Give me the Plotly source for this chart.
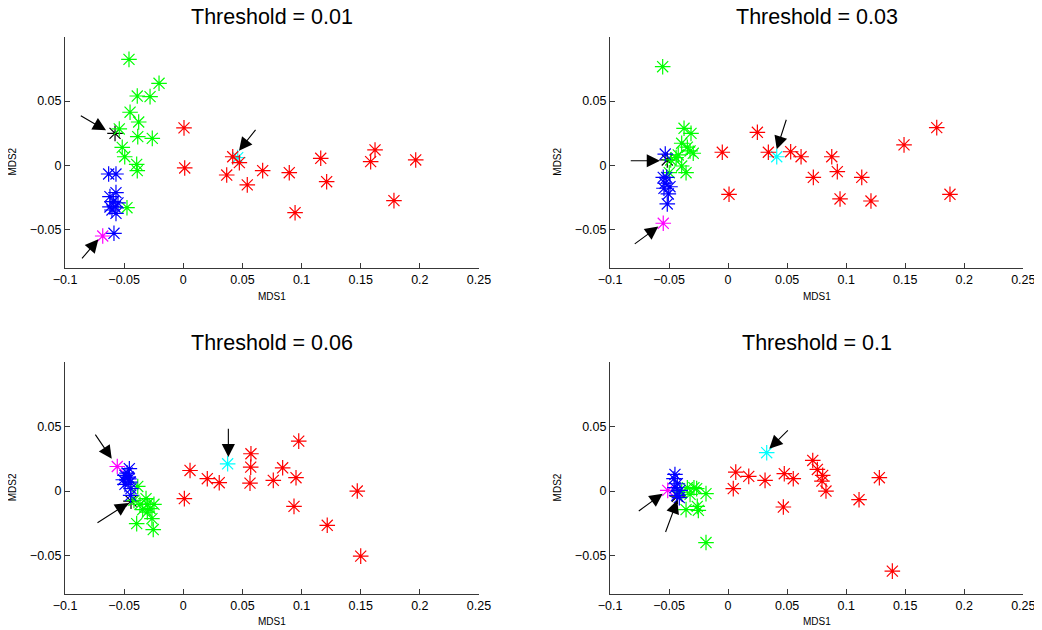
import plotly.graph_objects as go

# ---------------- data ----------------
titles = ["Threshold = 0.01", "Threshold = 0.03", "Threshold = 0.06", "Threshold = 0.1"]
x_ticks = [-0.1, -0.05, 0, 0.05, 0.1, 0.15, 0.2, 0.25]
x_ticktext = ["\u22120.1", "\u22120.05", "0", "0.05", "0.1", "0.15", "0.2", "0.25"]
y_ticks = [-0.05, 0, 0.05]
y_ticktext = ["\u22120.05", "0", "0.05"]

# Panel 1 : threshold 0.01
p1_red_x = [0.0006, 0.0012, 0.0418, 0.0474, 0.0367, 0.0541, 0.0671, 0.0896, 0.0945,
            0.1162, 0.1212, 0.1621, 0.1584, 0.1781, 0.1965]
p1_red_y = [0.0291, -0.0020, 0.0067, 0.0021, -0.0075, -0.0152, -0.0041, -0.0057, -0.0368,
            0.0055, -0.0127, 0.0120, 0.0029, -0.0274, 0.0042]
p1_green_x = [-0.0459, -0.0205, -0.0389, -0.0281, -0.0450, -0.0377, -0.0541, -0.0385,
              -0.0262, -0.0516, -0.0495, -0.0394, -0.0389, -0.0476]
p1_green_y = [0.0824, 0.0638, 0.0539, 0.0534, 0.0413, 0.0337, 0.0283, 0.0223,
              0.0210, 0.0140, 0.0067, 0.0008, -0.0041, -0.0329]
p1_blue_x = [-0.0631, -0.0569, -0.0569, -0.0620, -0.0592, -0.0620, -0.0577, -0.0603,
             -0.0569, -0.0586, -0.0552]
p1_blue_y = [-0.0067, -0.0067, -0.0212, -0.0243, -0.0282, -0.0323, -0.0323, -0.0347,
             -0.0373, -0.0528, -0.0292]
p1_magenta = [-0.0681, -0.0549]
p1_cyan = [0.0460, 0.0060]
p1_black = [-0.0577, 0.0249]
p1_arrows = [[-0.0879, 0.0392, -0.0653, 0.0272],   # tail x, tail y, tip x, tip y
             [-0.0867, -0.0735, -0.0718, -0.0575],
             [0.0621, 0.0288, 0.0471, 0.0114]]

# Panel 2 : threshold 0.03
p2_red_x = [0.0248, -0.0049, 0.0341, 0.0530, 0.0618, 0.0878, 0.0722, 0.0925, 0.1132,
            0.0008, 0.0948, 0.1210, 0.1490, 0.1767, 0.1879]
p2_red_y = [0.0257, 0.0102, 0.0102, 0.0106, 0.0067, 0.0067, -0.0093, -0.0049, -0.0093,
            -0.0225, -0.0261, -0.0277, 0.0159, 0.0293, -0.0225]
p2_green_x = [-0.0554, -0.0373, -0.0314, -0.0393, -0.0345, -0.0322, -0.0295, -0.0422,
              -0.0486, -0.0393, -0.0356, -0.0498, -0.0440]
p2_green_y = [0.0767, 0.0288, 0.0249, 0.0172, 0.0141, 0.0112, 0.0094, 0.0081,
              0.0042, -0.0005, -0.0057, -0.0057, 0.0060]
p2_blue_x = [-0.0532, -0.0549, -0.0520, -0.0534, -0.0492, -0.0543, -0.0506, -0.0515]
p2_blue_y = [0.0088, -0.0093, -0.0093, -0.0139, -0.0166, -0.0178, -0.0222, -0.0300]
p2_magenta = [-0.0549, -0.0450]
p2_cyan = [0.0412, 0.0067]
p2_black = [-0.0515, 0.0042]
p2_arrows = [[-0.0837, 0.0036, -0.0577, 0.0036],
             [-0.0803, -0.0619, -0.0591, -0.0476],
             [0.0497, 0.0366, 0.0412, 0.0125]]

# Panel 3 : threshold 0.06
p3_red_x = [0.0057, 0.0009, 0.0203, 0.0304, 0.0572, 0.0570, 0.0564, 0.0761, 0.0840,
            0.0976, 0.0953, 0.0936, 0.1217, 0.1471, 0.1500]
p3_red_y = [0.0160, -0.0059, 0.0096, 0.0065, 0.0290, 0.0186, 0.0062, 0.0083, 0.0181,
            0.0388, 0.0104, -0.0119, -0.0266, 0.0000, -0.0506]
p3_green_x = [-0.0385, -0.0417, -0.0315, -0.0366, -0.0304, -0.0248, -0.0281, -0.0343,
              -0.0304, -0.0265, -0.0394, -0.0254]
p3_green_y = [0.0036, -0.0072, -0.0059, -0.0103, -0.0103, -0.0103, -0.0136, -0.0144,
              -0.0163, -0.0214, -0.0253, -0.0299]
p3_blue_x = [-0.0456, -0.0493, -0.0465, -0.0507, -0.0450, -0.0493, -0.0442, -0.0445,
             -0.0475, -0.0460]
p3_blue_y = [0.0174, 0.0122, 0.0109, 0.0088, 0.0070, 0.0052, 0.0019, -0.0033,
             0.0140, 0.0095]
p3_magenta = [-0.0558, 0.0191]
p3_cyan = [0.0375, 0.0212]
p3_black = [-0.0442, -0.0078]
p3_arrows = [[-0.0752, 0.0450, -0.0605, 0.0251],
             [-0.0738, -0.0253, -0.0465, -0.0093],
             [0.0381, 0.0496, 0.0381, 0.0264]]

# Panel 4 : threshold 0.1
p4_red_x = [0.0044, 0.0065, 0.0175, 0.0313, 0.0476, 0.0552, 0.0468, 0.0717, 0.0756,
            0.0801, 0.0795, 0.0829, 0.1109, 0.1281, 0.1391]
p4_red_y = [0.0019, 0.0147, 0.0114, 0.0083, 0.0135, 0.0096, -0.0124, 0.0238, 0.0168,
            0.0122, 0.0078, 0.0000, -0.0067, 0.0104, -0.0622]
p4_green_x = [-0.0393, -0.0345, -0.0289, -0.0266, -0.0322, -0.0187, -0.0356, -0.0261,
              -0.0252, -0.0187]
p4_green_y = [-0.0008, 0.0026, 0.0026, 0.0019, -0.0026, -0.0020, -0.0144, -0.0119,
              -0.0150, -0.0400]
p4_blue_x = [-0.0450, -0.0458, -0.0430, -0.0450, -0.0407, -0.0435, -0.0413]
p4_blue_y = [0.0129, 0.0096, 0.0057, 0.0026, 0.0005, -0.0033, -0.0051]
p4_magenta = [-0.0511, 0.0005]
p4_cyan = [0.0327, 0.0298]
p4_black = [-0.0430, -0.0040]
p4_arrows = [[-0.0534, -0.0330, -0.0430, -0.0072],
             [-0.0769, -0.0163, -0.0554, -0.0020],
             [0.0519, 0.0484, 0.0349, 0.0329]]

panels = [
    (p1_red_x, p1_red_y, p1_green_x, p1_green_y, p1_blue_x, p1_blue_y, p1_magenta, p1_cyan, p1_black, p1_arrows),
    (p2_red_x, p2_red_y, p2_green_x, p2_green_y, p2_blue_x, p2_blue_y, p2_magenta, p2_cyan, p2_black, p2_arrows),
    (p3_red_x, p3_red_y, p3_green_x, p3_green_y, p3_blue_x, p3_blue_y, p3_magenta, p3_cyan, p3_black, p3_arrows),
    (p4_red_x, p4_red_y, p4_green_x, p4_green_y, p4_blue_x, p4_blue_y, p4_magenta, p4_cyan, p4_black, p4_arrows),
]

# ---------------- layout geometry ----------------
W, H = 1042, 630
OFF = 8  # page body margin of the html page
x_doms = [[(65 - OFF) / W, (479 - OFF) / W], [(610 - OFF) / W, (1023.3 - OFF) / W]]
y_doms = [[1 - (268.3 - OFF) / H, 1 - (36.7 - OFF) / H],
          [1 - (594 - OFF) / H, 1 - (362.4 - OFF) / H]]
FONT = "Liberation Sans, Arial, Helvetica, sans-serif"
AX_COLOR = "#383838"

fig = go.Figure()


def star(x, y, color, xa, ya):
    return go.Scatter(
        x=x, y=y, mode="markers", xaxis=xa, yaxis=ya, showlegend=False,
        hoverinfo="x+y",
        marker=dict(symbol="asterisk-open", size=13, color=color,
                    line=dict(color=color, width=1.2)),
    )


annotations = []
for i, (rx, ry, gx, gy, bx, by, mag, cya, blk, arrows) in enumerate(panels):
    row, col = divmod(i, 2)
    n = "" if i == 0 else str(i + 1)
    xa, ya = "x" + n, "y" + n
    fig.add_trace(star([blk[0]], [blk[1]], "#000000", xa, ya))
    fig.add_trace(star([cya[0]], [cya[1]], "#00FFFF", xa, ya))
    fig.add_trace(star([mag[0]], [mag[1]], "#FF00FF", xa, ya))
    fig.add_trace(star(rx, ry, "#FF0000", xa, ya))
    fig.add_trace(star(gx, gy, "#00FF00", xa, ya))
    fig.add_trace(star(bx, by, "#0000FF", xa, ya))

    common = dict(ticks="inside", ticklen=5, tickcolor=AX_COLOR, showline=True,
                  linecolor=AX_COLOR, linewidth=1, showgrid=False, zeroline=False,
                  automargin=False, fixedrange=True,
                  tickfont=dict(size=12.5, color="#000000"))
    fig.layout["xaxis" + n] = dict(domain=x_doms[col], range=[-0.1, 0.25], anchor=ya,
                                   tickvals=x_ticks, ticktext=x_ticktext, **common)
    fig.layout["yaxis" + n] = dict(domain=y_doms[row], range=[-0.08, 0.1], anchor=xa,
                                   tickvals=y_ticks, ticktext=y_ticktext, **common)
    # title
    annotations.append(dict(text=titles[i], xref=xa + " domain", yref=ya + " domain",
                            x=0.5, y=1.084, showarrow=False, xanchor="center",
                            yanchor="middle", font=dict(size=21.5, color="#000000")))
    # axis labels
    annotations.append(dict(text="MDS1", xref=xa + " domain", yref=ya + " domain",
                            x=0.5, y=-0.12, showarrow=False, xanchor="center",
                            yanchor="middle", font=dict(size=10, color="#000000")))
    annotations.append(dict(text="MDS2", xref=xa + " domain", yref=ya + " domain",
                            x=-0.126, y=0.46, showarrow=False, xanchor="center",
                            yanchor="middle", textangle=-90,
                            font=dict(size=10, color="#000000")))
    # arrows
    for tx, ty, hx, hy in arrows:
        annotations.append(dict(x=hx, y=hy, ax=tx, ay=ty, xref=xa, yref=ya,
                                axref=xa, ayref=ya, text="", showarrow=True,
                                arrowhead=2, arrowsize=2.4, arrowwidth=1.1,
                                arrowcolor="#000000", standoff=0))

fig.update_layout(
    template="none",
    width=W, height=H, margin=dict(l=0, r=0, t=0, b=0, pad=0, autoexpand=False),
    paper_bgcolor="white", plot_bgcolor="white",
    font=dict(family=FONT, color="#000000"),
    annotations=annotations, showlegend=False,
)

fig.write_html("out.html")
